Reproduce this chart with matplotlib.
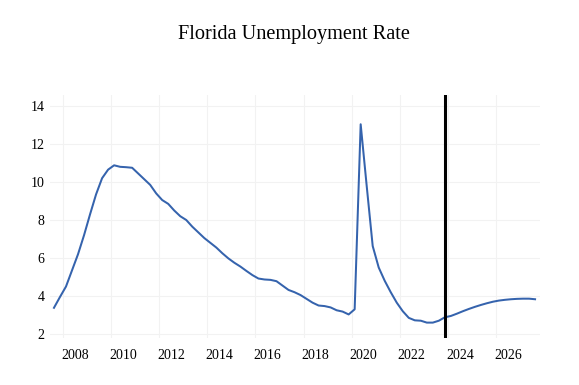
import matplotlib
matplotlib.use("Agg")
import matplotlib.pyplot as plt
import numpy as np

# Quarterly data, 2007 Q3 .. 2027 Q3
start_year = 2007
start_quarter = 3
rate = [3.38, 3.95,
        4.5, 5.35, 6.2, 7.2,
        8.3, 9.35, 10.2, 10.65,
        10.88, 10.8, 10.78, 10.75,
        10.45, 10.15, 9.85, 9.4,
        9.05, 8.85, 8.5, 8.2,
        8.0, 7.65, 7.35, 7.05,
        6.8, 6.55, 6.25, 5.98,
        5.75, 5.55, 5.32, 5.1,
        4.92, 4.87, 4.85, 4.78,
        4.55, 4.32, 4.2, 4.05,
        3.85, 3.65, 3.5, 3.47,
        3.4, 3.25, 3.18, 3.03,
        3.3, 13.04, 9.8, 6.63,
        5.5, 4.8, 4.2, 3.65,
        3.2, 2.85, 2.72, 2.7,
        2.6, 2.6, 2.7, 2.88,
        2.95, 3.07, 3.2, 3.32,
        3.43, 3.53, 3.62, 3.7,
        3.76, 3.8, 3.83, 3.85,
        3.86, 3.86, 3.83]
forecast_start = (2023, 4)
year_ticks = list(range(2008, 2028, 2))
y_ticks = [2, 4, 6, 8, 10, 12, 14]
title = "Florida Unemployment Rate"

# positions: mid-quarter in decimal years
x = [start_year + (start_quarter - 1 + i) / 4 + 0.125 for i in range(len(rate))]
vline_x = forecast_start[0] + (forecast_start[1] - 1) / 4 + 0.125

serif = ["Liberation Serif", "DejaVu Serif"]
fig = plt.figure(figsize=(5.79, 3.85), dpi=100)
ax = fig.add_axes([50 / 579, 47 / 385, 490 / 579, 243 / 385])

ax.plot(x, rate, color="#3563ad", lw=1.45, zorder=3, solid_joinstyle="round")
ax.axvline(vline_x, color="black", lw=2.2, zorder=4)

ax.set_xlim(2007.46, 2027.83)
ax.set_ylim(1.79, 14.58)

ax.set_xticks(year_ticks)
ax.set_xticklabels([])
ax.set_xticks([y + 0.5 for y in year_ticks], minor=True)
ax.set_xticklabels([str(y) for y in year_ticks], minor=True, fontsize=10, family=serif)
ax.set_yticks(y_ticks)
ax.set_yticklabels([str(v) for v in y_ticks], fontsize=10, family=serif)
ax.tick_params(axis="both", which="both", length=0)
ax.tick_params(axis="x", which="minor", pad=8)
ax.tick_params(axis="y", pad=4)

ax.grid(True, which="major", color="#f2f2f2", lw=0.8, zorder=0)
for s in ax.spines.values():
    s.set_visible(False)

fig.text(294 / 579, 1 - 35 / 385, title, ha="center", va="center", fontsize=14.6, family=serif)

fig.savefig("out.png", dpi=100)
